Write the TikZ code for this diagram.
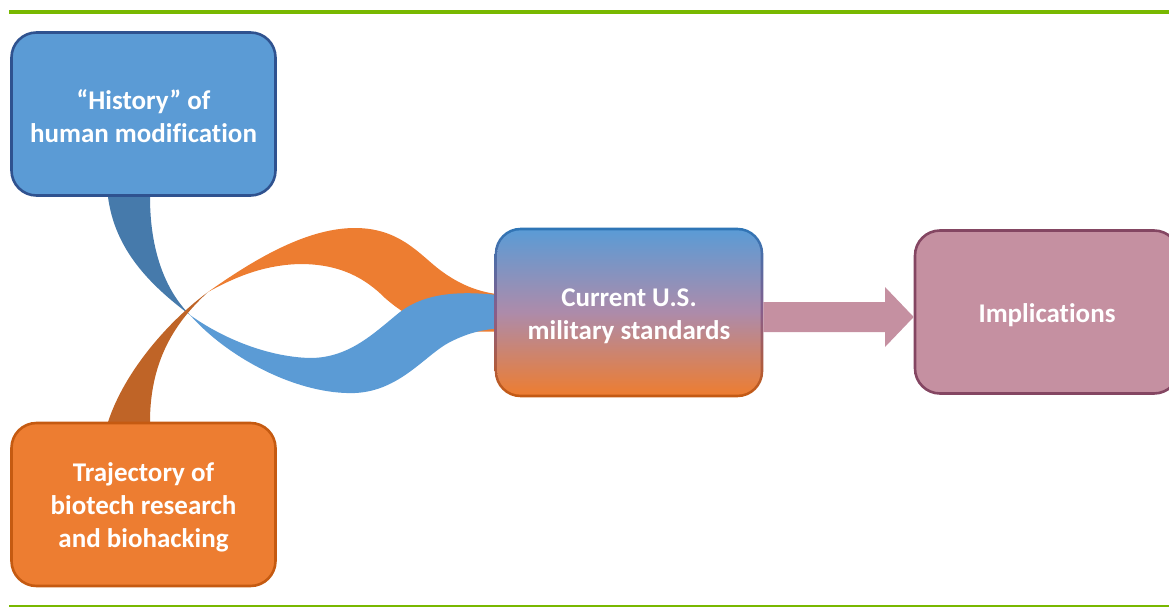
\documentclass[tikz,border=0pt]{standalone}
\usepackage{fontspec}
\setmainfont{Carlito}[Ligatures={TeX,NoCommon}]
\usetikzlibrary{calc}
\pgfdeclarelayer{ribbons}
\pgfdeclarelayer{boxbg}
\pgfsetlayers{ribbons,boxbg,main}
\definecolor{bluefill}{HTML}{5B9BD5}
\definecolor{blueline}{HTML}{2F528F}
\definecolor{bluedark}{HTML}{467AAB}
\definecolor{orangefill}{HTML}{ED7D31}
\definecolor{orangeline}{HTML}{C55A11}
\definecolor{orangedark}{HTML}{BF6427}
\definecolor{pinkfill}{HTML}{C590A1}
\definecolor{pinkline}{HTML}{844662}
\definecolor{greenrule}{HTML}{78B800}
\definecolor{midblue}{HTML}{2E75B6}
\definecolor{midmauve}{HTML}{AD8BAA}
\definecolor{midline}{HTML}{8A5E8A}
\begin{document}
\begin{tikzpicture}[x=1pt,y=-1pt,
  box/.style={rounded corners=25pt, line width=2.6pt, minimum width=264pt, minimum height=163pt, inner sep=0pt},
  boxtext/.style={align=center, text=white, font=\fontsize{27}{33}\selectfont\bfseries, inner sep=0pt},
  rule/.style={draw=greenrule}
]
\path[use as bounding box, clip] (0,0) rectangle (1169,607);

% rules
\draw[rule, line width=4pt] (9,12) -- (1169,12);
\draw[rule, line width=1.6pt] (9,605.8) -- (1169,605.8);

% boxes
\node[box, fill=bluefill, draw=blueline] (hist) at (143.5,114) {};
\node[box, fill=orangefill, draw=orangeline] (traj) at (143.5,504.5) {};
\node[box, minimum width=266pt, minimum height=167pt] (curr) at (629,312.5) {};
\node[box, fill=pinkfill, draw=pinkline] (impl) at (1047,312) {};

\node[boxtext] (histt) at ([yshift=-2.5pt]hist.center) {“History” of\\human modification};
\node[boxtext] (trajt) at ([yshift=-3pt]traj.center) {Trajectory of\\biotech research\\and biohacking};
\node[boxtext] (currt) at ([yshift=-4pt]curr.center) {Current U.S.\\military standards};
\node[boxtext] (implt) at ([yshift=-3pt]impl.center) {Implications};

\begin{pgfonlayer}{boxbg}
\shade[top color=midblue, bottom color=orangeline, middle color=midline, rounded corners=26pt]
  (curr.north west) rectangle (curr.south east);
\shade[top color=bluefill, bottom color=orangefill, middle color=midmauve, rounded corners=23.5pt]
  ([xshift=2.6pt,yshift=-2.6pt]curr.north west) rectangle ([xshift=-2.6pt,yshift=2.6pt]curr.south east);
\end{pgfonlayer}

% block arrow from curr to impl
\coordinate (ya) at (0,302);
\coordinate (yb) at (0,332);
\coordinate (yc) at (0,317);
\fill[pinkfill] (curr.east |- ya) -- (885,302) -- (885,287) -- (impl.west |- yc)
  -- (885,347) -- (885,332) -- (curr.east |- yb) -- cycle;

% ribbons
\begin{pgfonlayer}{ribbons}
\fill[orangefill] (208,292) .. controls (260,255) and (310,228) .. (355,228)
  .. controls (400,228) and (420,255) .. (440,270)
  .. controls (460,285) and (480,293) .. (505,295) -- (505,331)
  .. controls (440,335) and (410,320) .. (385,298)
  .. controls (365,278) and (340,264) .. (300,264)
  .. controls (260,265) and (230,280) .. (208,292) -- cycle;
\fill[bluefill] (190,315) .. controls (230,360) and (300,395) .. (355,393)
  .. controls (400,391) and (425,355) .. (450,342)
  .. controls (470,332) and (485,329) .. (505,328) -- (505,296)
  .. controls (460,290) and (425,293) .. (400,312)
  .. controls (375,332) and (350,358) .. (310,358)
  .. controls (270,357) and (225,340) .. (190,315) -- cycle;
\fill[bluedark] (108,190) -- (108,197) .. controls (115,250) and (150,285) .. (190,315)
  .. controls (165,290) and (150,250) .. (150,197) -- (150,190) -- cycle;
\fill[orangedark] (108,430) -- (108,422) .. controls (125,370) and (170,320) .. (208,292)
  .. controls (180,318) and (150,355) .. (150,422) -- (150,430) -- cycle;
\end{pgfonlayer}
\end{tikzpicture}
\end{document}
